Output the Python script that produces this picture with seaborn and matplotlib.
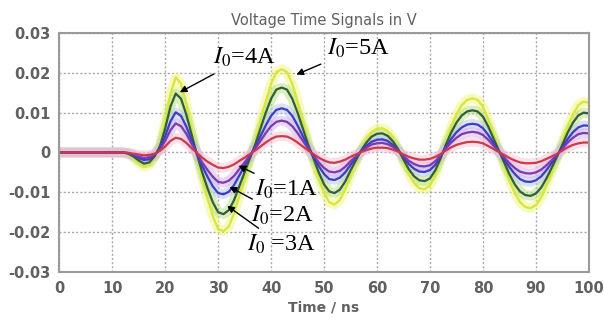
import matplotlib
matplotlib.use("Agg")
import matplotlib.pyplot as plt
import seaborn as sns
import pandas as pd

# time axis in ns, voltages in mV
t_ns = list(range(0, 101))

v_1A = [0]*13 + [-0.1, -0.3, -0.5, -0.7, -0.6, -0.3, 0.4, 1.5, 2.9, 3.7, 3.4, 2.4, 1.1, -0.1, -1.3, -2.3, -3.1, -3.8, -3.9, -3.6,
        -3.0, -2.1, -1.3, -0.4, 0.5, 1.5, 2.5, 3.4, 4.0, 4.1, 4.0, 3.4, 2.5, 1.5, 0.5, -0.4, -1.3, -2.0, -2.5, -2.6,
        -2.3, -1.8, -1.1, -0.5, 0.1, 0.6, 1.0, 1.2, 1.2, 1.1, 0.7, 0.2, -0.5, -1.1, -1.5, -1.8, -1.8, -1.6, -1.1, -0.4,
        0.5, 1.3, 1.9, 2.3, 2.6, 2.7, 2.6, 2.3, 1.6, 0.9, 0.1, -0.6, -1.4, -2.0, -2.5, -2.7, -2.7, -2.6, -2.2, -1.6,
        -1.0, -0.3, 0.5, 1.3, 1.9, 2.3, 2.5, 2.5]
v_2A = [0]*13 + [-0.1, -0.5, -1.0, -1.4, -1.2, -0.5, 0.7, 2.9, 5.6, 7.3, 6.6, 4.7, 2.2, -0.2, -2.5, -4.4, -6.1, -7.4, -7.6, -7.1,
        -5.9, -4.2, -2.5, -0.7, 1.0, 2.9, 4.9, 6.6, 7.7, 8.0, 7.7, 6.6, 4.9, 2.9, 1.0, -0.7, -2.5, -3.9, -4.8, -5.0,
        -4.6, -3.6, -2.2, -1.0, 0.2, 1.2, 2.0, 2.3, 2.4, 2.1, 1.4, 0.4, -0.9, -2.1, -2.9, -3.4, -3.5, -3.2, -2.2, -0.7,
        1.0, 2.5, 3.7, 4.6, 5.0, 5.2, 5.0, 4.4, 3.2, 1.7, 0.2, -1.2, -2.7, -3.9, -4.8, -5.2, -5.3, -5.0, -4.3, -3.2,
        -1.9, -0.5, 1.0, 2.5, 3.7, 4.6, 4.9, 4.8]
v_3A = [0]*13 + [-0.2, -0.7, -1.4, -1.9, -1.7, -0.7, 1.0, 4.1, 7.8, 10.1, 9.2, 6.5, 3.1, -0.3, -3.4, -6.1, -8.5, -10.2, -10.5, -9.9,
        -8.2, -5.8, -3.4, -1.0, 1.4, 4.1, 6.8, 9.2, 10.7, 11.1, 10.7, 9.2, 6.8, 4.1, 1.4, -1.0, -3.4, -5.4, -6.7, -6.9,
        -6.3, -5.0, -3.1, -1.4, 0.3, 1.7, 2.7, 3.2, 3.3, 2.9, 1.9, 0.5, -1.2, -2.9, -4.1, -4.8, -4.9, -4.4, -3.1, -1.0,
        1.4, 3.4, 5.1, 6.3, 7.0, 7.2, 7.0, 6.1, 4.4, 2.4, 0.3, -1.7, -3.7, -5.4, -6.7, -7.3, -7.4, -7.0, -6.0, -4.4,
        -2.6, -0.7, 1.4, 3.4, 5.1, 6.3, 6.8, 6.7]
v_4A = [0]*13 + [-0.3, -1.0, -2.0, -2.8, -2.5, -1.0, 1.5, 6.0, 11.5, 14.8, 13.5, 9.5, 4.5, -0.5, -5.0, -9.0, -12.5, -15.0, -15.5, -14.5,
        -12.0, -8.5, -5.0, -1.5, 2.0, 6.0, 10.0, 13.5, 15.8, 16.3, 15.8, 13.5, 10.0, 6.0, 2.0, -1.5, -5.0, -8.0, -9.8, -10.2,
        -9.3, -7.3, -4.5, -2.0, 0.5, 2.5, 4.0, 4.7, 4.8, 4.2, 2.8, 0.8, -1.8, -4.2, -6.0, -7.0, -7.2, -6.5, -4.5, -1.5,
        2.0, 5.0, 7.5, 9.3, 10.3, 10.6, 10.3, 9.0, 6.5, 3.5, 0.5, -2.5, -5.5, -8.0, -9.8, -10.7, -10.9, -10.3, -8.8, -6.5,
        -3.8, -1.0, 2.0, 5.0, 7.5, 9.3, 10.0, 9.8]
v_5A = [0]*13 + [-0.4, -1.3, -2.6, -3.6, -3.2, -1.3, 1.9, 7.7, 14.7, 18.9, 17.3, 12.2, 5.8, -0.6, -6.4, -11.5, -16.0, -19.2, -19.8, -18.6,
        -15.4, -10.9, -6.4, -1.9, 2.6, 7.7, 12.8, 17.3, 20.2, 20.9, 20.2, 17.3, 12.8, 7.7, 2.6, -1.9, -6.4, -10.2, -12.5, -13.1,
        -11.9, -9.3, -5.8, -2.6, 0.6, 3.2, 5.1, 6.0, 6.1, 5.4, 3.6, 1.0, -2.3, -5.4, -7.7, -9.0, -9.2, -8.3, -5.8, -1.9,
        2.6, 6.4, 9.6, 11.9, 13.2, 13.6, 13.2, 11.5, 8.3, 4.5, 0.6, -3.2, -7.0, -10.2, -12.5, -13.7, -14.0, -13.2, -11.3, -8.3,
        -4.9, -1.3, 2.6, 6.4, 9.6, 11.9, 12.8, 12.5]

currents = ["5A", "4A", "3A", "2A", "1A"]
series = {"5A": v_5A, "4A": v_4A, "3A": v_3A, "2A": v_2A, "1A": v_1A}
line_colors = {"5A": "#d6e63a", "4A": "#2f5e3c", "3A": "#3c3cc4", "2A": "#7a3ab0", "1A": "#cc3a4a"}
halo_colors = {"5A": "#f0f77a", "4A": "#b8e07a", "3A": "#b8c4f2", "2A": "#d4b0ec", "1A": "#f6c4d6"}

x_ticks = [0, 10, 20, 30, 40, 50, 60, 70, 80, 90, 100]
y_ticks = [-0.03, -0.02, -0.01, 0, 0.01, 0.02, 0.03]
y_labels = ["-0.03", "-0.02", "-0.01", "0", "0.01", "0.02", "0.03"]

rows = []
for c in currents:
    for t, v in zip(t_ns, series[c]):
        rows.append({"t": t, "V": v / 1000.0, "I0": c})
df = pd.DataFrame(rows)

sns.set_style("white")
fig = plt.figure(figsize=(6.04, 3.21), dpi=100)
ax = fig.add_axes([0.098, 0.153, 0.877, 0.744])

# soft halos under the lines
sns.lineplot(data=df, x="t", y="V", hue="I0", palette=halo_colors, linewidth=7,
             alpha=0.5, legend=False, ax=ax, sort=False)
sns.lineplot(data=df, x="t", y="V", hue="I0", palette=line_colors, linewidth=1.6,
             legend=False, ax=ax, sort=False)

ax.set_xlim(0, 100)
ax.set_ylim(-0.03, 0.03)
ax.set_xticks(x_ticks)
ax.set_yticks(y_ticks)
ax.set_yticklabels(y_labels)
ax.grid(True, color="#a8a8a8", linestyle=(0, (1.5, 1.5)), linewidth=1.0)
for s in ax.spines.values():
    s.set_color("#9a9a9a")
    s.set_linewidth(1.5)
ax.tick_params(colors="#606060", labelsize=10.5, length=3, width=1, color="#9a9a9a")
for lab in ax.get_xticklabels() + ax.get_yticklabels():
    lab.set_fontweight("bold")
ax.set_xlabel("Time / ns", color="#606060", fontsize=10, fontweight="bold", labelpad=3)
ax.set_ylabel("")
ax.set_title("Voltage Time Signals in V", color="#606060", fontsize=10.5, pad=6)

plt.rcParams["mathtext.fontset"] = "stix"
ann = dict(fontsize=17.5, family="Liberation Serif", color="black",
           arrowprops=dict(arrowstyle="-|>", color="black", lw=1.0, mutation_scale=10))
ax.annotate(r"$I_0$=4A", xy=(22.3, 0.0148), xytext=(29.0, 0.0238), va="center", ha="left", **ann)
ax.annotate(r"$I_0$=5A", xy=(44.3, 0.0193), xytext=(50.5, 0.0262), va="center", ha="left", **ann)
ax.annotate(r"$I_0$=1A", xy=(33.4, -0.0030), xytext=(37.0, -0.0093), va="center", ha="left", **ann)
ax.annotate(r"$I_0$=2A", xy=(31.7, -0.0083), xytext=(36.2, -0.0158), va="center", ha="left", **ann)
ax.annotate(r"$I_0$ =3A", xy=(31.3, -0.0130), xytext=(35.5, -0.0232), va="center", ha="left", **ann)

fig.savefig("out.png", dpi=100)
